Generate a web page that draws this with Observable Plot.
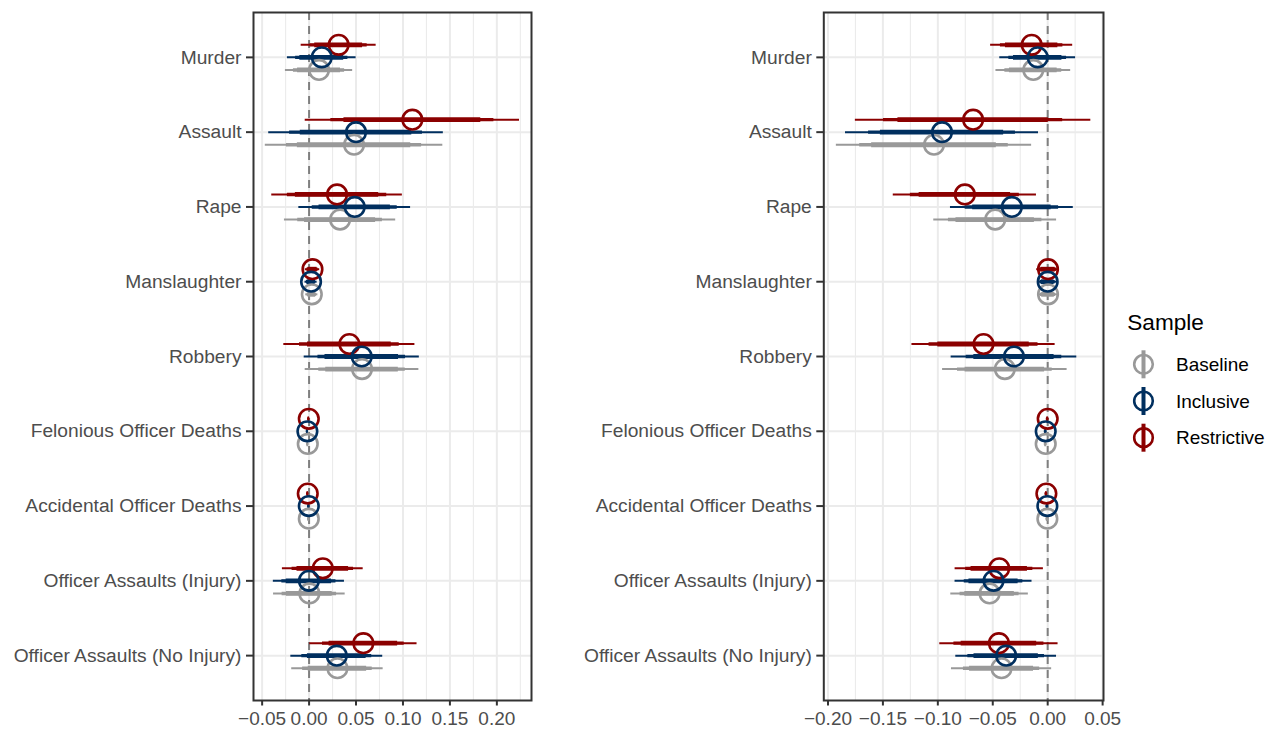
<!DOCTYPE html>
<html>
<head>
<meta charset="utf-8">
<script src="https://cdn.jsdelivr.net/npm/d3@7"></script>
<script src="https://cdn.jsdelivr.net/npm/@observablehq/plot@0.6"></script>
<style>
  html, body { margin: 0; padding: 0; background: white; }
  #wrap { position: relative; width: 1276px; height: 731px; overflow: hidden; background: white; font-family: "Liberation Sans", Arial, sans-serif; }
  #wrap > * { position: absolute; top: 0; }
</style>
</head>
<body>
<div id="wrap"></div>
<script>
// ---------- data ----------
const categories = ["Murder", "Assault", "Rape", "Manslaughter", "Robbery",
  "Felonious Officer Deaths", "Accidental Officer Deaths",
  "Officer Assaults (Injury)", "Officer Assaults (No Injury)"];
const samples = ["Baseline", "Inclusive", "Restrictive"];
const sampleColors = ["#999999", "#002F5F", "#8B0000"];

// interval levels (99%, 95%, 90%) as normal quantiles
const levelZ = [2.576, 1.96, 1.645];

// left panel: point estimates and standard errors, per sample
const leftBaselineEst    = [0.0106, 0.0479, 0.0330, 0.0029, 0.0564, -0.0014, -0.0003, 0.0003, 0.0302];
const leftBaselineSe     = [0.0139, 0.0367, 0.0230, 0.0025, 0.0235, 0.0005, 0.0005, 0.0148, 0.0189];
const leftInclusiveEst   = [0.0135, 0.0500, 0.0486, 0.0021, 0.0561, -0.0018, -0.0003, -0.0002, 0.0295];
const leftInclusiveSe    = [0.0142, 0.0361, 0.0231, 0.0025, 0.0238, 0.0005, 0.0005, 0.0147, 0.0190];
const leftRestrictiveEst = [0.0315, 0.1100, 0.0298, 0.0036, 0.0429, -0.0003, -0.0014, 0.0146, 0.0578];
const leftRestrictiveSe  = [0.0155, 0.0443, 0.0270, 0.0030, 0.0271, 0.0005, 0.0005, 0.0167, 0.0222];

// right panel
const rightBaselineEst    = [-0.0131, -0.1035, -0.0478, 0.0003, -0.0390, -0.0018, -0.0003, -0.0529, -0.0420];
const rightBaselineSe     = [0.0132, 0.0345, 0.0217, 0.0035, 0.0220, 0.0005, 0.0005, 0.0137, 0.0177];
const rightInclusiveEst   = [-0.0091, -0.0962, -0.0326, 0.0000, -0.0307, -0.0018, -0.0003, -0.0493, -0.0378];
const rightInclusiveSe    = [0.0134, 0.0341, 0.0217, 0.0035, 0.0222, 0.0005, 0.0005, 0.0136, 0.0178];
const rightRestrictiveEst = [-0.0146, -0.0679, -0.0754, 0.0003, -0.0584, 0.0000, -0.0012, -0.0441, -0.0444];
const rightRestrictiveSe  = [0.0145, 0.0416, 0.0253, 0.0040, 0.0253, 0.0005, 0.0005, 0.0156, 0.0209];

// axis ticks
const leftMajorTicks  = [-0.05, 0, 0.05, 0.10, 0.15, 0.20];
const leftMinorTicks  = [-0.025, 0.025, 0.075, 0.125, 0.175, 0.225];
const rightMajorTicks = [-0.20, -0.15, -0.10, -0.05, 0, 0.05];
const rightMinorTicks = [-0.175, -0.125, -0.075, -0.025, 0.025];

// ---------- build ----------
function rowsFor(sample, ests, ses) {
  return categories.map((c, i) => ({category: c, sample, est: ests[i], se: ses[i]}));
}
const leftRows = {
  Baseline: rowsFor("Baseline", leftBaselineEst, leftBaselineSe),
  Inclusive: rowsFor("Inclusive", leftInclusiveEst, leftInclusiveSe),
  Restrictive: rowsFor("Restrictive", leftRestrictiveEst, leftRestrictiveSe)
};
const rightRows = {
  Baseline: rowsFor("Baseline", rightBaselineEst, rightBaselineSe),
  Inclusive: rowsFor("Inclusive", rightInclusiveEst, rightInclusiveSe),
  Restrictive: rowsFor("Restrictive", rightRestrictiveEst, rightRestrictiveSe)
};

const dodge = {Restrictive: -12.5, Inclusive: 0, Baseline: 12.6};
const levelWidths = [2, 3.4, 4.8];
const drawOrder = ["Baseline", "Restrictive", "Inclusive"];

function makePanel(rows, domain, major, minor, width, marginLeft, marginRight) {
  const marks = [
    Plot.ruleX(minor, {stroke: "#EBEBEB", strokeWidth: 1.1}),
    Plot.ruleX(major, {stroke: "#EBEBEB", strokeWidth: 2}),
    Plot.ruleY(categories, {stroke: "#EBEBEB", strokeWidth: 2}),
    Plot.ruleX([0], {stroke: "#7F7F7F", strokeWidth: 2, strokeDasharray: "8,6"})
  ];
  for (const s of drawOrder) {
    levelZ.forEach((z, li) => {
      marks.push(Plot.ruleY(rows[s], {
        y: "category",
        x1: d => d.est - z * d.se,
        x2: d => d.est + z * d.se,
        stroke: "sample",
        strokeWidth: levelWidths[li],
        dy: dodge[s]
      }));
    });
  }
  for (const s of drawOrder) {
    marks.push(Plot.dot(rows[s], {
      x: "est", y: "category", r: 9.8, fill: "none",
      stroke: "sample", strokeWidth: 2.6, dy: dodge[s]
    }));
  }
  marks.push(Plot.frame({stroke: "#333333", strokeWidth: 2}));
  marks.push(Plot.axisX(major, {
    tickFormat: d3.format(".2f"), tickSize: 5.5, tickPadding: 5.5,
    fontSize: 19, stroke: "#333333", strokeWidth: 2, fill: "#4D4D4D", label: null
  }));
  marks.push(Plot.axisY({
    tickSize: 7, tickPadding: 5, fontSize: 19.2,
    stroke: "#333333", strokeWidth: 2, fill: "#4D4D4D", label: null
  }));
  return Plot.plot({
    width, height: 731,
    marginLeft, marginRight, marginTop: 12, marginBottom: 31,
    x: {domain, axis: null},
    y: {type: "point", domain: categories, padding: 0.6, round: false, axis: null},
    color: {domain: samples, range: sampleColors},
    style: {fontFamily: "Liberation Sans, Arial, sans-serif", background: "transparent", overflow: "visible", color: "#4D4D4D"},
    marks
  });
}

const wrap = document.getElementById("wrap");
const left = makePanel(leftRows, [-0.0592, 0.2369], leftMajorTicks, leftMinorTicks, 545, 253, 14);
left.style.left = "0px";
wrap.appendChild(left);
const right = makePanel(rightRows, [-0.2038, 0.0508], rightMajorTicks, rightMinorTicks, 560, 263.3, 17);
right.style.left = "560px";
wrap.appendChild(right);

// ---------- legend ----------
const leg = d3.create("svg").attr("width", 166).attr("height", 180)
  .style("left", "1110px").style("top", "300px")
  .style("font-family", "Liberation Sans, Arial, sans-serif");
leg.append("text").attr("x", 17.3).attr("y", 30).attr("font-size", 22.6).attr("fill", "black").text("Sample");
samples.forEach((s, i) => {
  const cy = 64.3 + i * 36.7;
  const g = leg.append("g");
  g.append("line").attr("x1", 33.5).attr("x2", 33.5).attr("y1", cy - 14).attr("y2", cy + 14)
    .attr("stroke", sampleColors[i]).attr("stroke-width", 4);
  g.append("circle").attr("cx", 33.5).attr("cy", cy).attr("r", 9.3)
    .attr("fill", "none").attr("stroke", sampleColors[i]).attr("stroke-width", 2.6);
  g.append("text").attr("x", 66).attr("y", cy).attr("dy", "0.35em")
    .attr("font-size", 19).attr("fill", "black").text(s);
});
wrap.appendChild(leg.node());
</script>
</body>
</html>
